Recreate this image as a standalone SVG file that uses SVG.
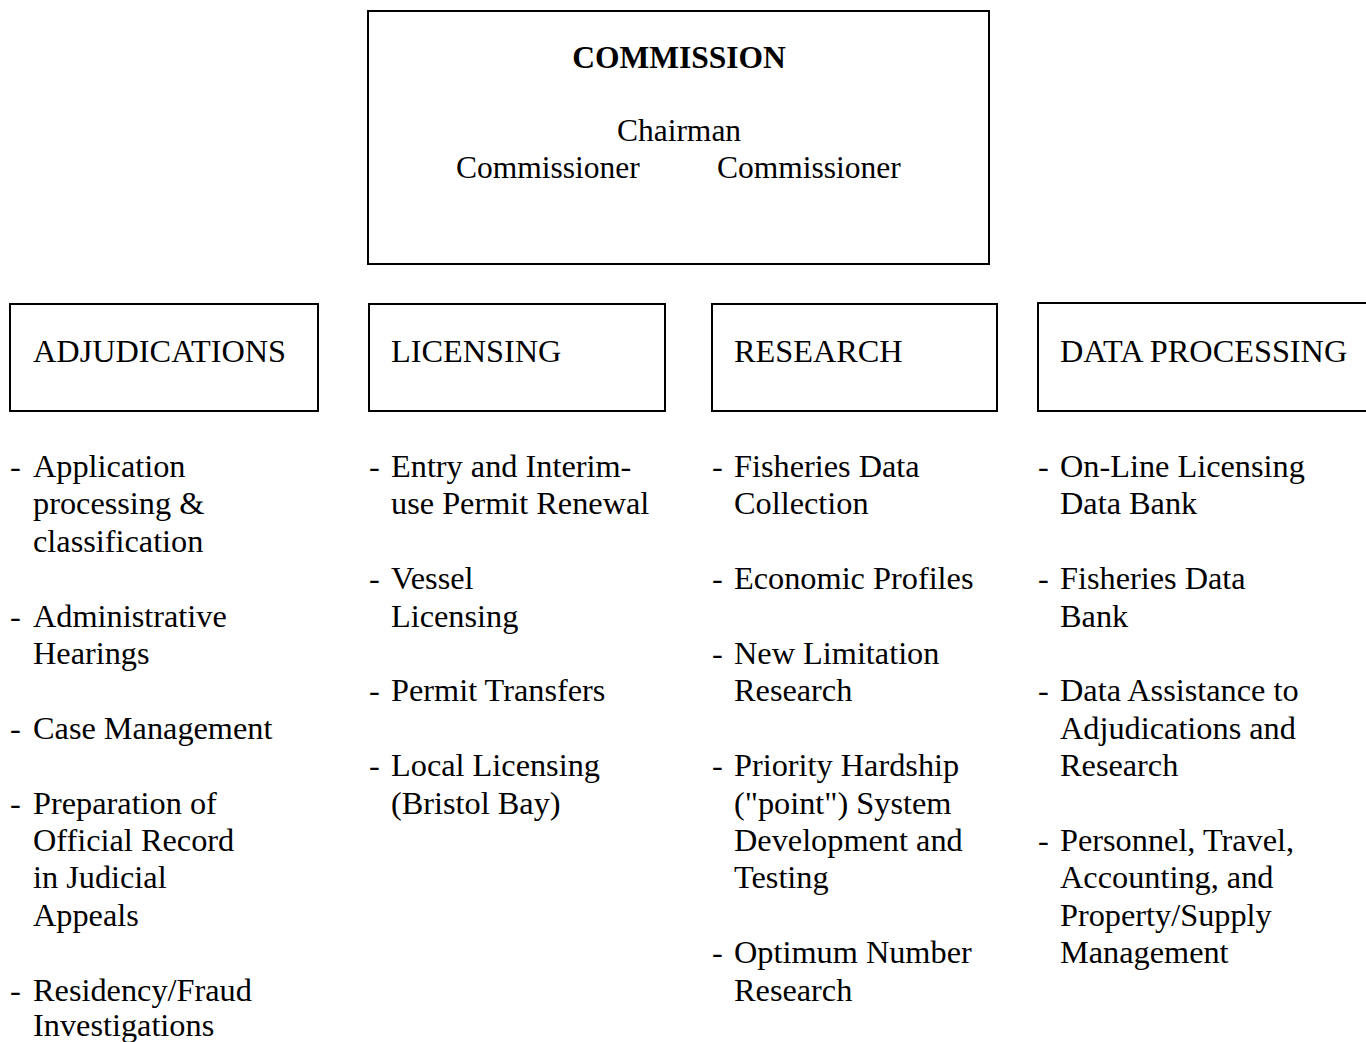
<svg xmlns="http://www.w3.org/2000/svg" width="1366" height="1042" viewBox="0 0 1366 1042">
<style>
.box{fill:none;stroke:#000;stroke-width:2}
text{font-family:"Liberation Serif","Times New Roman",serif;font-size:32.3px;fill:#000}
.t{font-size:31.5px}
.b{font-weight:bold}
.c{text-anchor:middle}
</style>
<rect width="1366" height="1042" fill="#fff"/>
<g id="commission">
<rect class="box" x="368" y="11" width="621" height="253"/>
<text class="t b c" x="679" y="68">COMMISSION</text>
<text class="t c" x="679" y="141">Chairman</text>
<text class="t" x="456" y="178">Commissioner</text>
<text class="t" x="717" y="178">Commissioner</text>
</g>
<g id="connectors"></g>
<g id="adjudications">
<rect class="box" x="10" y="304" width="308" height="107"/>
<text x="33" y="362">ADJUDICATIONS</text>
<text x="10" y="477">-</text><text x="33" y="477">Application</text>
<text x="33" y="514.4">processing &amp;</text>
<text x="33" y="551.8">classification</text>
<text x="10" y="626.6">-</text><text x="33" y="626.6">Administrative</text>
<text x="33" y="664">Hearings</text>
<text x="10" y="738.8">-</text><text x="33" y="738.8">Case Management</text>
<text x="10" y="813.6">-</text><text x="33" y="813.6">Preparation of</text>
<text x="33" y="851">Official Record</text>
<text x="33" y="888.4">in Judicial</text>
<text x="33" y="925.8">Appeals</text>
<text x="10" y="1000.6">-</text><text x="33" y="1000.6">Residency/Fraud</text>
<text x="33" y="1036">Investigations</text>
</g>
<g id="licensing">
<rect class="box" x="369" y="304" width="296" height="107"/>
<text x="391" y="362">LICENSING</text>
<text x="369" y="477">-</text><text x="391" y="477">Entry and Interim-</text>
<text x="391" y="514.4">use Permit Renewal</text>
<text x="369" y="589.2">-</text><text x="391" y="589.2">Vessel</text>
<text x="391" y="626.6">Licensing</text>
<text x="369" y="701.4">-</text><text x="391" y="701.4">Permit Transfers</text>
<text x="369" y="776.2">-</text><text x="391" y="776.2">Local Licensing</text>
<text x="391" y="813.6">(Bristol Bay)</text>
</g>
<g id="research">
<rect class="box" x="712" y="304" width="285" height="107"/>
<text x="734" y="362">RESEARCH</text>
<text x="712" y="477">-</text><text x="734" y="477">Fisheries Data</text>
<text x="734" y="514.4">Collection</text>
<text x="712" y="589.2">-</text><text x="734" y="589.2">Economic Profiles</text>
<text x="712" y="664">-</text><text x="734" y="664">New Limitation</text>
<text x="734" y="701.4">Research</text>
<text x="712" y="776.2">-</text><text x="734" y="776.2">Priority Hardship</text>
<text x="734" y="813.6">("point") System</text>
<text x="734" y="851">Development and</text>
<text x="734" y="888.4">Testing</text>
<text x="712" y="963.2">-</text><text x="734" y="963.2">Optimum Number</text>
<text x="734" y="1000.6">Research</text>
</g>
<g id="data-processing">
<rect class="box" x="1038" y="303" width="340" height="108"/>
<text x="1060" y="362">DATA PROCESSING</text>
<text x="1038" y="477">-</text><text x="1060" y="477">On-Line Licensing</text>
<text x="1060" y="514.4">Data Bank</text>
<text x="1038" y="589.2">-</text><text x="1060" y="589.2">Fisheries Data</text>
<text x="1060" y="626.6">Bank</text>
<text x="1038" y="701.4">-</text><text x="1060" y="701.4">Data Assistance to</text>
<text x="1060" y="738.8">Adjudications and</text>
<text x="1060" y="776.2">Research</text>
<text x="1038" y="851">-</text><text x="1060" y="851">Personnel, Travel,</text>
<text x="1060" y="888.4">Accounting, and</text>
<text x="1060" y="925.8">Property/Supply</text>
<text x="1060" y="963.2">Management</text>
</g>
</svg>
